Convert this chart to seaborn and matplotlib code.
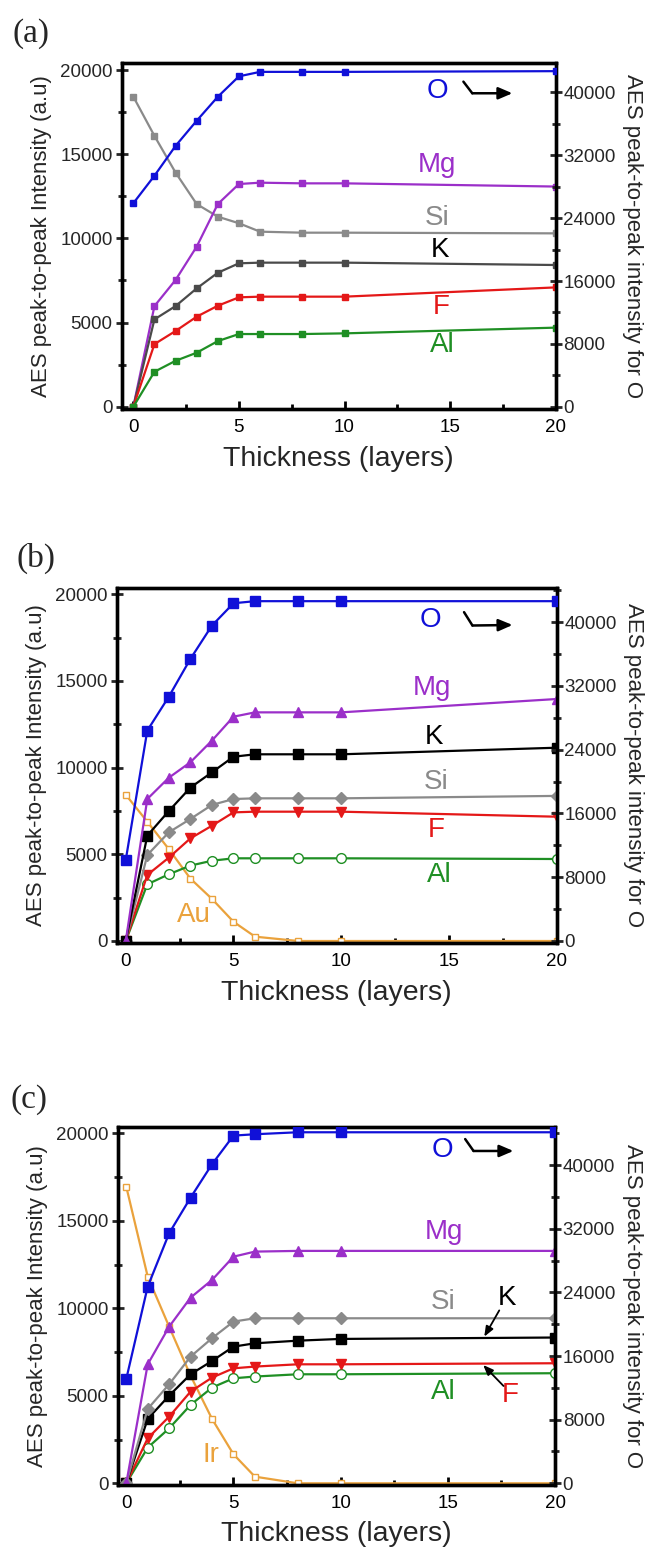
import matplotlib
matplotlib.use("Agg")
import matplotlib.pyplot as plt
from matplotlib.ticker import MultipleLocator
import seaborn as sns

# Film thickness (layers) at which AES spectra were recorded
THICKNESS = [0, 1, 2, 3, 4, 5, 6, 8, 10, 20]
TICK_X = [0, 5, 10, 15, 20]

# (a) peak-to-peak intensities (a.u.); O is read on the right axis
O_A = [25900, 29400, 33200, 36400, 39450, 42050, 42620, 42620, 42620, 42710]
MG_A = [0, 5980, 7530, 9510, 12040, 13230, 13310, 13270, 13270, 13080]
SI_A = [18420, 16090, 13910, 12040, 11290, 10900, 10400, 10340, 10340, 10300]
K_A = [0, 5190, 5980, 7030, 7960, 8520, 8560, 8560, 8560, 8420]
F_A = [0, 3720, 4500, 5350, 6000, 6500, 6540, 6540, 6540, 7090]
AL_A = [0, 2080, 2730, 3210, 3900, 4320, 4320, 4320, 4360, 4700]

# (b) film on Au
O_B = [10160, 26390, 30650, 35380, 39560, 42360, 42620, 42620, 42620, 42620]
MG_B = [0, 8190, 9420, 10310, 11560, 12940, 13190, 13190, 13190, 13960]
K_B = [0, 6080, 7500, 8850, 9730, 10630, 10770, 10770, 10770, 11150]
SI_B = [0, 4960, 6270, 7040, 7850, 8190, 8230, 8230, 8230, 8370]
F_B = [0, 3810, 4810, 5920, 6650, 7420, 7460, 7460, 7460, 7170]
AL_B = [0, 3270, 3850, 4350, 4630, 4770, 4770, 4770, 4770, 4730]
AU_B = [8440, 6880, 5300, 3600, 2430, 1110, 250, 0, 0, 0]

# (c) film on Ir
O_C = [13120, 24740, 31450, 35930, 40130, 43730, 43900, 44150, 44150, 44150]
MG_C = [0, 6800, 8950, 10610, 11620, 12950, 13240, 13280, 13280, 13280]
SI_C = [0, 4250, 5660, 7240, 8290, 9240, 9430, 9430, 9430, 9430]
K_C = [0, 3680, 5010, 6230, 6990, 7810, 8000, 8150, 8250, 8330]
F_C = [0, 2570, 3810, 5240, 6040, 6570, 6670, 6800, 6800, 6860]
AL_C = [0, 2040, 3140, 4480, 5470, 6000, 6100, 6230, 6230, 6290]
IR_C = [16950, 11810, 8950, 6150, 3680, 1660, 380, 0, 0, 0]

BLUE = "#1010d8"
PURPLE = "#9b2fc9"
GRAY = "#8a8a8a"
DARK = "#4a4a4a"
BLACK = "#000000"
RED = "#e41818"
GREEN = "#1f8f24"
ORANGE = "#eaa23c"

sns.set_theme(style="white")
plt.rcParams["font.family"] = ["Liberation Sans", "DejaVu Sans"]
plt.rcParams["axes.edgecolor"] = "black"
plt.rcParams["axes.linewidth"] = 2.4

fig = plt.figure(figsize=(6.51, 15.55), dpi=100)

LW = 1.6
TICK_FS = 13.5
LABEL_FS = 16
XLABEL_FS = 20.5
ELEM_FS = 20


def series(ax, y, color, marker, ms, open_face=False, z=3):
    sns.lineplot(
        x=THICKNESS, y=y, ax=ax, color=color, linewidth=LW,
        marker=marker, markersize=ms,
        markerfacecolor="white" if open_face else color,
        markeredgecolor=color, markeredgewidth=1.0,
        legend=False, zorder=z,
    )


def frame(rect, ylim, ylim_r, xlim, tag, tag_xy):
    ax = fig.add_axes(rect)
    axr = ax.twinx()
    ax.set_xlim(*xlim)
    ax.set_ylim(*ylim)
    axr.set_ylim(*ylim_r)
    ax.set_xticks(TICK_X)
    ax.xaxis.set_minor_locator(MultipleLocator(2.5))
    ax.yaxis.set_major_locator(MultipleLocator(5000))
    ax.yaxis.set_minor_locator(MultipleLocator(2500))
    axr.yaxis.set_major_locator(MultipleLocator(8000))
    axr.yaxis.set_minor_locator(MultipleLocator(4000))
    ax.tick_params(axis="x", which="both", direction="in", bottom=True, top=False,
                   labelsize=TICK_FS, pad=7, width=2, colors="black")
    ax.tick_params(axis="x", which="major", length=6)
    ax.tick_params(axis="x", which="minor", length=3.5)
    ax.tick_params(axis="y", which="both", direction="inout", left=True, right=False,
                   labelsize=TICK_FS, pad=2, width=2)
    ax.tick_params(axis="y", which="major", length=9)
    ax.tick_params(axis="y", which="minor", length=6)
    axr.tick_params(axis="y", which="both", direction="inout", right=True, left=False,
                    labelsize=TICK_FS, pad=1, width=2)
    axr.tick_params(axis="y", which="major", length=9)
    axr.tick_params(axis="y", which="minor", length=6)
    for a in (ax, axr):
        for s in a.spines.values():
            s.set_linewidth(2.4)
            s.set_color("black")
        a.grid(False)
    ax.set_xlabel("Thickness (layers)", fontsize=XLABEL_FS, labelpad=7)
    ax.set_ylabel("AES peak-to-peak Intensity (a.u)", fontsize=LABEL_FS, labelpad=6)
    axr.set_ylabel("AES peak-to-peak intensity for O", fontsize=LABEL_FS,
                   rotation=270, labelpad=20)
    fig.text(tag_xy[0], tag_xy[1], tag, fontsize=24, family="Liberation Serif",
             ha="left", va="center")
    return ax, axr


def o_arrow(ax, p0, p1, p2):
    ax.plot([p0[0], p1[0]], [p0[1], p1[1]], color="black", lw=1.8, zorder=6)
    ax.annotate("", xy=p2, xytext=p1,
                arrowprops=dict(arrowstyle="-|>,head_length=0.7,head_width=0.3",
                                color="black", lw=1.8, shrinkA=0, shrinkB=0), zorder=6)


# ---------------- (a) ----------------
ax, axr = frame([121.7 / 651, 1 - 409.3 / 1555, 434 / 651, 346 / 1555],
                (-150, 20400), (-321, 43710), (-0.55, 20), "(a)",
                (12 / 651, 1 - 34 / 1555))
series(ax, SI_A, GRAY, "s", 4.5)
series(ax, MG_A, PURPLE, "s", 4.5)
series(ax, K_A, DARK, "s", 4.5)
series(ax, F_A, RED, "s", 4.5)
series(ax, AL_A, GREEN, "s", 4.5)
series(axr, O_A, BLUE, "s", 4.5)
for txt, xx, yy, c in [("O", 14.4, 18780, BLUE), ("Mg", 14.4, 14360, PURPLE),
                       ("Si", 14.4, 11200, GRAY), ("K", 14.5, 9310, BLACK),
                       ("F", 14.6, 5940, RED), ("Al", 14.65, 3670, GREEN)]:
    ax.text(xx, yy, txt, color=c, fontsize=ELEM_FS, ha="center", va="center")
o_arrow(ax, (15.63, 19310), (16.05, 18620), (17.95, 18620))

# ---------------- (b) ----------------
ax, axr = frame([116.7 / 651, 1 - 943.3 / 1555, 440 / 651, 355.6 / 1555],
                (-133, 20381), (-289, 44310), (-0.42, 20), "(b)",
                (17 / 651, 1 - 558 / 1555))
series(ax, AU_B, ORANGE, "s", 4.5, open_face=True, z=2)
series(ax, AL_B, GREEN, "o", 7, open_face=True)
series(ax, F_B, RED, "v", 7.5)
series(ax, SI_B, GRAY, "D", 6.5)
series(ax, K_B, BLACK, "s", 7)
series(ax, MG_B, PURPLE, "^", 7.5)
series(axr, O_B, BLUE, "s", 7)
for txt, xx, yy, c in [("O", 14.15, 18520, BLUE), ("Mg", 14.23, 14580, PURPLE),
                       ("K", 14.31, 11790, BLACK), ("Si", 14.39, 9190, GRAY),
                       ("F", 14.39, 6400, RED), ("Al", 14.54, 3810, GREEN),
                       ("Au", 3.14, 1500, ORANGE)]:
    ax.text(xx, yy, txt, color=c, fontsize=ELEM_FS, ha="center", va="center")
o_arrow(ax, (15.70, 18970), (16.09, 18200), (17.95, 18230))

# ---------------- (c) ----------------
ax, axr = frame([117.7 / 651, 1 - 1485 / 1555, 437.3 / 651, 358.3 / 1555],
                (-97, 20377), (-214, 44850), (-0.4, 20), "(c)",
                (10 / 651, 1 - 1100 / 1555))
series(ax, IR_C, ORANGE, "s", 4.5, open_face=True, z=2)
series(ax, AL_C, GREEN, "o", 7, open_face=True)
series(ax, F_C, RED, "v", 7.5)
series(ax, K_C, BLACK, "s", 7)
series(ax, SI_C, GRAY, "D", 6.5)
series(ax, MG_C, PURPLE, "^", 7.5)
series(axr, O_C, BLUE, "s", 7)
for txt, xx, yy, c in [("O", 14.73, 19050, BLUE), ("Mg", 14.8, 14380, PURPLE),
                       ("Si", 14.76, 10380, GRAY), ("K", 17.75, 10570, BLACK),
                       ("Al", 14.8, 5230, GREEN), ("F", 17.91, 5050, RED),
                       ("Ir", 3.95, 1620, ORANGE)]:
    ax.text(xx, yy, txt, color=c, fontsize=ELEM_FS, ha="center", va="center")
o_arrow(ax, (15.81, 19670), (16.2, 18990), (18.06, 18990))
ax.annotate("", xy=(16.7, 8380), xytext=(17.4, 9880),
            arrowprops=dict(arrowstyle="-|>,head_length=0.5,head_width=0.2",
                            color="black", lw=1.3, shrinkA=0, shrinkB=0))
ax.annotate("", xy=(16.65, 6760), xytext=(17.6, 5560),
            arrowprops=dict(arrowstyle="-|>,head_length=0.5,head_width=0.2",
                            color="black", lw=1.3, shrinkA=0, shrinkB=0))

fig.savefig("out.png", dpi=100, facecolor="white")
